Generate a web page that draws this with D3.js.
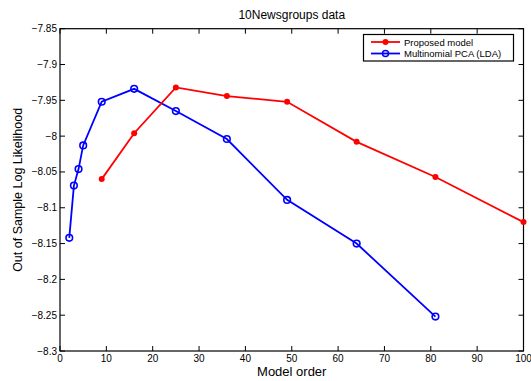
<!DOCTYPE html>
<html><head><meta charset="utf-8">
<script src="https://cdn.jsdelivr.net/npm/d3@7"></script>
<style>
body{margin:0;background:#fff;}
text{font-family:"Liberation Sans",Arial,Helvetica,sans-serif;}
</style></head>
<body><svg id="c" width="531" height="381"></svg>
<script>
const propX = [9, 16, 25, 36, 49, 64, 81, 100];
const propY = [-8.060, -7.996, -7.932, -7.944, -7.952, -8.008, -8.057, -8.120];
const ldaX = [2, 3, 4, 5, 9, 16, 25, 36, 49, 64, 81];
const ldaY = [-8.142, -8.069, -8.046, -8.013, -7.952, -7.934, -7.965, -8.004, -8.089, -8.150, -8.252];
const xTicks = [0, 10, 20, 30, 40, 50, 60, 70, 80, 90, 100];
const yTicks = [-7.85, -7.9, -7.95, -8, -8.05, -8.1, -8.15, -8.2, -8.25, -8.3];
const seriesNames = ["Proposed model", "Multinomial PCA (LDA)"];

const svg = d3.select("#c");
const L = 60, R = 523.5, T = 28.7, B = 351;
const x = d3.scaleLinear().domain([0, 100]).range([L, R]);
const y = d3.scaleLinear().domain([-8.3, -7.85]).range([B, T]);
const fmt = v => String(v).replace("-", "\u2212");

// ticks (inward on all sides)
const tl = 5;
const g = svg.append("g");
xTicks.forEach(t => {
  g.append("line").attr("x1", x(t)).attr("x2", x(t)).attr("y1", B).attr("y2", B - tl).attr("stroke", "#000");
  g.append("line").attr("x1", x(t)).attr("x2", x(t)).attr("y1", T).attr("y2", T + tl).attr("stroke", "#000");
  g.append("text").attr("x", x(t)).attr("y", B + 11).attr("text-anchor", "middle").attr("font-size", 10).text(fmt(t));
});
yTicks.forEach(t => {
  g.append("line").attr("x1", L).attr("x2", L + tl).attr("y1", y(t)).attr("y2", y(t)).attr("stroke", "#000");
  g.append("line").attr("x1", R).attr("x2", R - tl).attr("y1", y(t)).attr("y2", y(t)).attr("stroke", "#000");
  g.append("text").attr("x", L - 3).attr("y", y(t) + 3.5).attr("text-anchor", "end").attr("font-size", 10).text(fmt(t));
});
svg.append("rect").attr("x", L).attr("y", T).attr("width", R - L).attr("height", B - T)
  .attr("fill", "none").attr("stroke", "#000").attr("stroke-width", 1.2);

const line = d3.line().x(d => x(d[0])).y(d => y(d[1]));
const pd = propX.map((v, i) => [v, propY[i]]);
const ld = ldaX.map((v, i) => [v, ldaY[i]]);

svg.append("path").datum(ld).attr("d", line).attr("fill", "none").attr("stroke", "#0000ff").attr("stroke-width", 1.8);
svg.append("path").datum(pd).attr("d", line).attr("fill", "none").attr("stroke", "#ff0000").attr("stroke-width", 1.8);
svg.selectAll(".lp").data(ld).enter().append("circle").attr("cx", d => x(d[0])).attr("cy", d => y(d[1]))
  .attr("r", 3.3).attr("fill", "none").attr("stroke", "#0000ff").attr("stroke-width", 1.6);
svg.selectAll(".pp").data(pd).enter().append("circle").attr("cx", d => x(d[0])).attr("cy", d => y(d[1]))
  .attr("r", 3).attr("fill", "#ff0000");

// title and labels
svg.append("text").attr("x", (L + R) / 2).attr("y", 19).attr("text-anchor", "middle").attr("font-size", 12).text("10Newsgroups data");
svg.append("text").attr("x", (L + R) / 2).attr("y", 376).attr("text-anchor", "middle").attr("font-size", 13).text("Model order");
svg.append("text").attr("transform", `translate(22,${(T + B) / 2}) rotate(-90)`).attr("text-anchor", "middle").attr("font-size", 12.5).text("Out of Sample Log Likelihood");

// legend
const lg = svg.append("g");
lg.append("rect").attr("x", 363.5).attr("y", 34.5).attr("width", 150).attr("height", 26.5).attr("fill", "#fff").attr("stroke", "#000").attr("stroke-width", 1.2);
const colors = ["#ff0000", "#0000ff"];
seriesNames.forEach((n, i) => {
  const yy = 42 + i * 11.5;
  lg.append("line").attr("x1", 371).attr("x2", 400).attr("y1", yy).attr("y2", yy).attr("stroke", colors[i]).attr("stroke-width", 1.8);
  if (i === 0) lg.append("circle").attr("cx", 385.5).attr("cy", yy).attr("r", 3).attr("fill", colors[i]);
  else lg.append("circle").attr("cx", 385.5).attr("cy", yy).attr("r", 3).attr("fill", "none").attr("stroke", colors[i]).attr("stroke-width", 1.5);
  lg.append("text").attr("x", 404).attr("y", yy + 3.5).attr("font-size", 9.5).text(n);
});
</script></body></html>
